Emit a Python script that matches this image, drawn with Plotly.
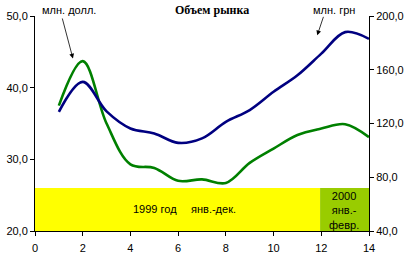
import plotly.graph_objects as go

months = [1, 2, 3, 4, 5, 6, 7, 8, 9, 10, 11, 12, 13, 14]
usd = [37.5, 43.7, 35.0, 29.3, 28.8, 27.0, 27.2, 26.7, 29.5, 31.5, 33.4, 34.3, 34.9, 33.1]
uah = [128.7, 151.0, 129.0, 116.3, 112.6, 105.6, 108.9, 121.2, 130.0, 143.6, 155.9, 172.0, 188.0, 183.0]

left_ticks = [20, 30, 40, 50]
right_ticks = [40, 80, 120, 160, 200]
x_ticks = [0, 2, 4, 6, 8, 10, 12, 14]

title = "Объем рынка"
label_usd = "млн. долл."
label_uah = "млн. грн"
band1_a = "1999 год"
band1_b = "янв.-дек."
band2 = "2000<br>янв.-<br>февр."

font = dict(family="Liberation Sans, Arial", size=11, color="black")

fig = go.Figure()
fig.add_trace(go.Scatter(x=months, y=usd, mode="lines", line=dict(color="#008000", width=2.6, shape="spline", smoothing=1.0),
                         yaxis="y", showlegend=False))
fig.add_trace(go.Scatter(x=months, y=uah, mode="lines", line=dict(color="#000080", width=2.6, shape="spline", smoothing=1.0),
                         yaxis="y2", showlegend=False))

fig.add_shape(type="rect", xref="x", yref="y", x0=0, x1=11.95, y0=20, y1=26, fillcolor="#FFFF00", line=dict(width=0), layer="below")
fig.add_shape(type="rect", xref="x", yref="y", x0=11.95, x1=14, y0=20, y1=26, fillcolor="#99CC00", line=dict(width=0), layer="below")

ann = []
ann.append(dict(text="<b>" + title + "</b>", xref="paper", yref="paper", x=0.53, y=1.027, showarrow=False,
                font=dict(family="Liberation Serif, Times New Roman", size=12, color="black"), xanchor="center", yanchor="middle"))
ann.append(dict(text=label_usd, xref="paper", yref="paper", x=(69 - 35) / 334, y=1.03, showarrow=False, font=font,
                xanchor="center", yanchor="middle"))
ann.append(dict(text=label_uah, xref="paper", yref="paper", x=(333.5 - 35) / 334, y=1.03, showarrow=False, font=font,
                xanchor="center", yanchor="middle"))
ann.append(dict(text="", xref="x", yref="y", x=1.59, y=44.06, ax=-11, ay=-41.6, showarrow=True,
                arrowhead=2, arrowsize=1.2, arrowwidth=0.8, arrowcolor="black", standoff=0))
ann.append(dict(text="", xref="x", yref="y", x=11.83, y=47.3, ax=6.7, ay=-20, showarrow=True,
                arrowhead=2, arrowsize=1.2, arrowwidth=0.8, arrowcolor="black", standoff=0))
ann.append(dict(text=band1_a, xref="x", yref="y", x=(155 - 35) / 23.86, y=23.1, showarrow=False, font=font))
ann.append(dict(text=band1_b, xref="x", yref="y", x=(214 - 35) / 23.86, y=23.1, showarrow=False, font=font))
ann.append(dict(text=band2, xref="x", yref="y", x=(344 - 35) / 23.86, y=22.85, showarrow=False, font=font))

fig.update_layout(
    width=408, height=257,
    margin=dict(l=35, r=39, t=16, b=26, pad=0, autoexpand=False),
    paper_bgcolor="white", plot_bgcolor="white",
    separators=", ",
    font=font,
    annotations=ann,
    xaxis=dict(range=[0, 14], tickvals=x_ticks, showgrid=False, zeroline=False, showline=True, linecolor="black",
               linewidth=1, ticks="outside", ticklen=4, tickcolor="black", tickfont=font, automargin=False,
               ticklabelstandoff=3),
    yaxis=dict(range=[20, 50], tickvals=left_ticks, tickformat=".1f", showgrid=False, zeroline=False, showline=True,
               linecolor="black", linewidth=1, ticks="outside", ticklen=4, tickcolor="black", tickfont=font,
               automargin=False),
    yaxis2=dict(range=[40, 200], tickvals=right_ticks, tickformat=".1f", overlaying="y", side="right", showgrid=False,
                zeroline=False, showline=True, linecolor="black", linewidth=1, ticks="outside", ticklen=4,
                tickcolor="black", tickfont=font, automargin=False),
)

fig.write_html("out.html")
